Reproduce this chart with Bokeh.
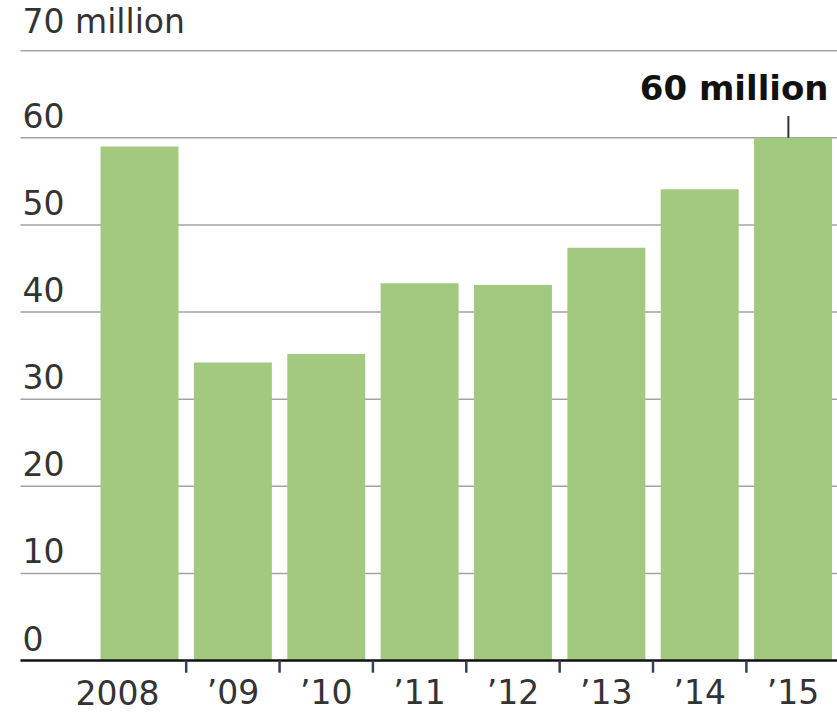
from bokeh.plotting import figure
from bokeh.embed import file_html
from bokeh.resources import INLINE
from bokeh.core.properties import value

years = ["2008", "\u201909", "\u201910", "\u201911", "\u201912", "\u201913", "\u201914", "\u201915"]
visitors = [59.0, 34.2, 35.2, 43.3, 43.1, 47.4, 54.1, 60.0]
y_ticks = [0, 10, 20, 30, 40, 50, 60, 70]
y_labels = ["0", "10", "20", "30", "40", "50", "60", "70 million"]
annotation = "60 million"

FONT = "DejaVu Sans"
BAR = "#a2c97f"

idx = list(range(len(years)))
p = figure(width=837, height=717, x_range=(-1.489, 7.476), y_range=(-6.54, 75.77),
           min_border=0, toolbar_location=None, output_backend="svg")
p.axis.visible = False
p.grid.visible = False
p.outline_line_color = None
p.background_fill_color = "white"

# gridlines
grid_t = [t for t in y_ticks if t > 0]
p.segment(x0=[-1.275] * len(grid_t), x1=[7.476] * len(grid_t), y0=grid_t, y1=grid_t,
          line_color="#a3a3a3", line_width=1.5)

# bars
p.vbar(x=idx, top=visitors, width=0.835, fill_color=BAR, line_color=None)

# baseline
p.segment(x0=[-1.275], x1=[7.476], y0=[0], y1=[0], line_color="#111111", line_width=2.5)

# ticks between bars
tx = [i + 0.5 for i in idx[:-1]]
p.segment(x0=tx, x1=tx, y0=[0] * len(tx), y1=[-1.4] * len(tx), line_color="#3a3f55", line_width=2.5)

# y labels
p.text(x=[-1.253] * len(y_ticks), y=y_ticks, text=y_labels, y_offset=-10,
       text_font=value(FONT), text_font_size="33px", text_color="#333333",
       text_align="left", text_baseline="bottom")

# x labels (first one, the full year, sits slightly to the left)
p.text(x=idx[:1], y=[0], text=years[:1], y_offset=32, x_offset=-22,
       text_font=value(FONT), text_font_size="33px", text_color="#333333",
       text_align="center", text_baseline="alphabetic")
p.text(x=idx[1:], y=[0] * (len(idx) - 1), text=years[1:], y_offset=32,
       text_font=value(FONT), text_font_size="33px", text_color="#333333",
       text_align="center", text_baseline="alphabetic")

# annotation
last = idx[-1]
p.segment(x0=[last - 0.05], x1=[last - 0.05], y0=[visitors[-1]], y1=[visitors[-1] + 2.5],
          line_color="#333333", line_width=2)
p.text(x=[last + 0.38], y=[visitors[-1]], text=[annotation], y_offset=-30,
       text_font=value(FONT), text_font_size="34px", text_font_style="bold",
       text_color="#111111", text_align="right", text_baseline="bottom")

open("out.html", "w").write(file_html(p, INLINE))
